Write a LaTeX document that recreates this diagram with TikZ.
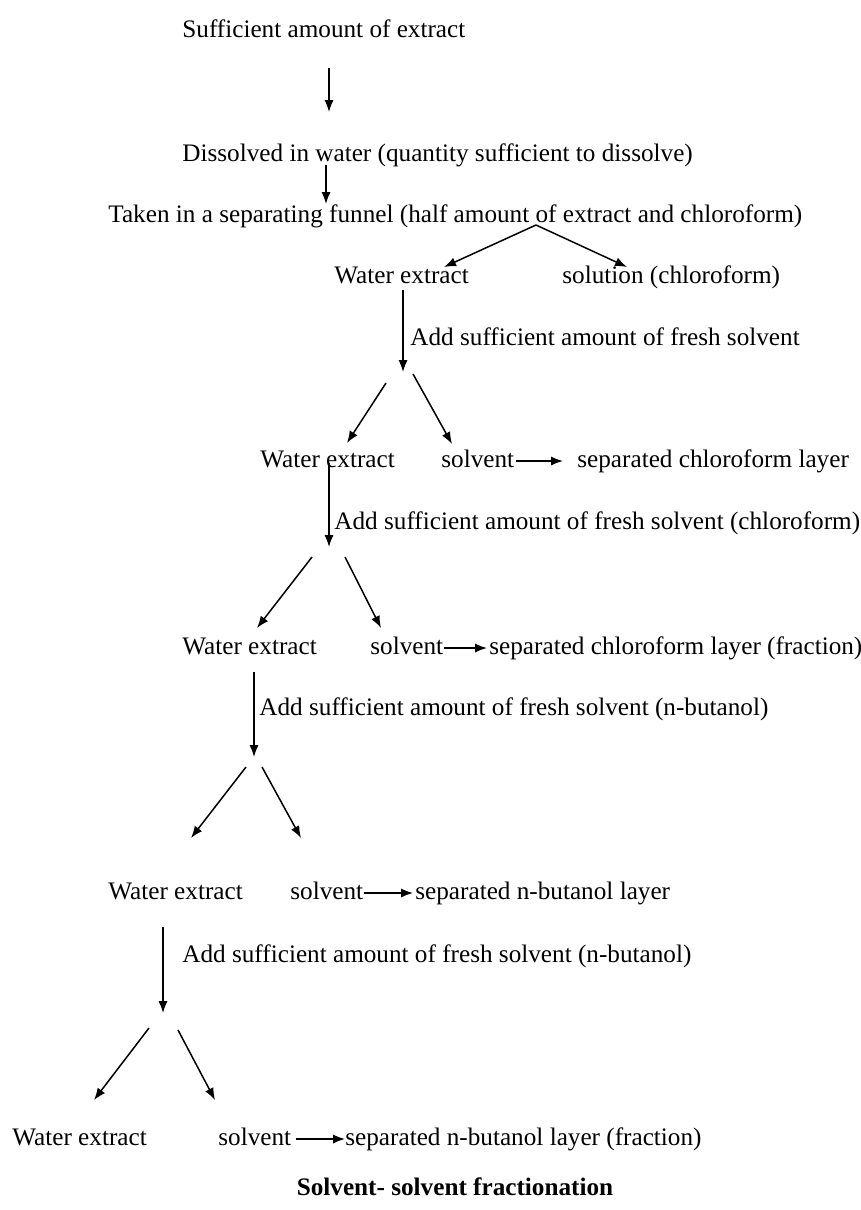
\documentclass[tikz,border=0pt]{standalone}
\usepackage{fontspec}
\setmainfont{Liberation Serif}
\usepackage{tikz}
\usetikzlibrary{arrows,arrows.meta,calc,positioning}

\tikzset{
  txt/.style={anchor=base west,inner sep=0pt,text height=8.5pt,text depth=2.5pt,font=\fontsize{12.6}{15}\selectfont},
  arr/.style={-{Latex[length=6pt,width=4.6pt]},line width=0.75pt}
}

\begin{document}
\begin{tikzpicture}[x=0.5pt,y=-0.5pt]
\useasboundingbox[fill=white] (0,0) rectangle (861,1210);
\node[txt] (extract) at (182,37) {Sufficient amount of extract};
\node[txt] (dissolve) at (182,161) {Dissolved in water (quantity sufficient to dissolve)};
\node[txt] (funnel) at (108,222) {Taken in a separating funnel (half amount of extract and chloroform)};
\node[txt] (water1) at (334,283) {Water extract};
\node[txt] (solution) at (562,283) {solution (chloroform)};
\node[txt] (add1) at (410,345) {Add sufficient amount of fresh solvent};
\node[txt] (water2) at (260,467) {Water extract};
\node[txt] (solvent2) at (441,467) {solvent};
\node[txt] (layer2) at (577,467) {separated chloroform layer};
\node[txt] (add2) at (334,529) {Add sufficient amount of fresh solvent (chloroform)};
\node[txt] (water3) at (182,654) {Water extract};
\node[txt] (solvent3) at (370,654) {solvent};
\node[txt] (layer3) at (489,654) {separated chloroform layer (fraction)};
\node[txt] (add3) at (259,715) {Add sufficient amount of fresh solvent (n-butanol)};
\node[txt] (water4) at (108,899) {Water extract};
\node[txt] (solvent4) at (290,899) {solvent};
\node[txt] (layer4) at (415,899) {separated n-butanol layer};
\node[txt] (add4) at (182,962) {Add sufficient amount of fresh solvent (n-butanol)};
\node[txt] (water5) at (12,1145) {Water extract};
\node[txt] (solvent5) at (218,1145) {solvent};
\node[txt] (layer5) at (345,1145) {separated n-butanol layer (fraction)};
\node[txt,anchor=base,font=\fontsize{12.6}{15}\selectfont\bfseries] (title) at (455,1195) {Solvent- solvent fractionation};
\coordinate (s1) at (329,68);
\coordinate (e1) at (329,112);
\coordinate (s2) at (326,165);
\coordinate (e2) at (326,204);
\coordinate (top1) at (536,225);
\coordinate (l1) at (444,267);
\coordinate (r1) at (627,267);
\coordinate (s3) at (403,290);
\coordinate (e3) at (403,372);
\coordinate (l2s) at (386,383);
\coordinate (l2) at (347,443);
\coordinate (r2s) at (413,374);
\coordinate (r2) at (452,444);
\coordinate (s4) at (329,463);
\coordinate (e4) at (329,547);
\coordinate (l3s) at (312,557);
\coordinate (l3) at (257,628);
\coordinate (r3s) at (345,557);
\coordinate (r3) at (381,628);
\coordinate (s5) at (254,672);
\coordinate (e5) at (254,757);
\coordinate (l4s) at (246,767);
\coordinate (l4) at (191,838);
\coordinate (r4s) at (262,767);
\coordinate (r4) at (301,838);
\coordinate (s6) at (163,927);
\coordinate (e6) at (163,1013);
\coordinate (l5s) at (149,1028);
\coordinate (l5) at (94,1100);
\coordinate (r5s) at (178,1030);
\coordinate (r5) at (215,1100);
\draw[arr] (s1) -- (e1);
\draw[arr] (s2) -- (e2);
\draw[arr] (top1) -- (l1);
\draw[arr] (top1) -- (r1);
\draw[arr] (s3) -- (e3);
\draw[arr] (l2s) -- (l2);
\draw[arr] (r2s) -- (r2);
\draw[arr,shorten <=0.5pt,shorten >=7pt] (solvent2) -- (layer2);
\draw[arr] (s4) -- (e4);
\draw[arr] (l3s) -- (l3);
\draw[arr] (r3s) -- (r3);
\draw[arr,shorten >=1pt] (solvent3) -- (layer3);
\draw[arr] (s5) -- (e5);
\draw[arr] (l4s) -- (l4);
\draw[arr] (r4s) -- (r4);
\draw[arr,shorten >=1pt] (solvent4) -- (layer4);
\draw[arr] (s6) -- (e6);
\draw[arr] (l5s) -- (l5);
\draw[arr] (r5s) -- (r5);
\draw[arr,shorten <=2pt] (solvent5) -- (layer5);
\end{tikzpicture}
\end{document}
